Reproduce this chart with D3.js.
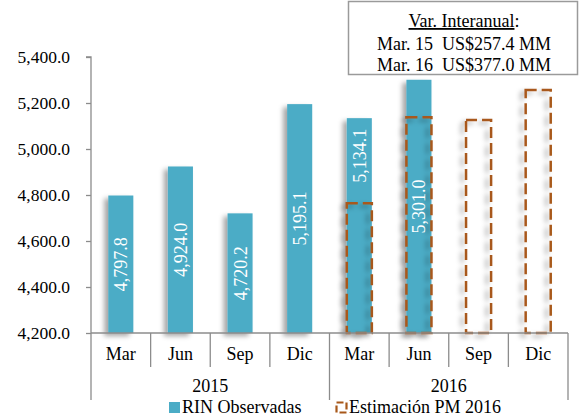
<!DOCTYPE html>
<html>
<head>
<meta charset="utf-8">
<script src="https://cdn.jsdelivr.net/npm/d3@7"></script>
<style>
  body { margin: 0; background: #fff; }
  svg { display: block; font-family: "Liberation Serif", "Times New Roman", serif; }
</style>
</head>
<body>
<div id="chart"></div>
<script>
const years = ['2015', '2016'];
const months = ['Mar', 'Jun', 'Sep', 'Dic'];
const observed = [4797.8, 4924.0, 4720.2, 5195.1, 5134.1, 5301.0, null, null];
const estimate = [null, null, null, null, 4764, 5138, 5126, 5257];
const yTicks = [4200, 4400, 4600, 4800, 5000, 5200, 5400];
const legendNames = ['RIN Observadas', 'Estimación PM 2016'];
const boxLines = ['Mar. 15  US$257.4 MM', 'Mar. 16  US$377.0 MM'];

const width = 580, height = 417;
const teal = '#4bacc6', brown = '#a8581a', axisGray = '#8c8c8c';
const margin = { left: 91, right: 12, top: 57, bottom: 84 };
const fs = 18;

const cats = [];
years.forEach(yr => months.forEach(m => cats.push({ year: yr, month: m })));
cats.forEach((c, i) => { c.key = i; c.obs = observed[i]; c.est = estimate[i]; });

const svg = d3.select('#chart').append('svg')
  .attr('width', width)
  .attr('height', height);

const defs = svg.append('defs');
const shadow = defs.append('filter').attr('id', 'shadow')
  .attr('x', '-50%').attr('y', '-20%').attr('width', '200%').attr('height', '140%');
shadow.append('feDropShadow')
  .attr('dx', -4).attr('dy', 3).attr('stdDeviation', 2.5)
  .attr('flood-color', '#000').attr('flood-opacity', 0.35);

const x = d3.scaleBand()
  .domain(cats.map(c => c.key))
  .range([margin.left, width - margin.right])
  .paddingInner(0).paddingOuter(0);

const y = d3.scaleLinear()
  .domain([4200, 5400])
  .range([height - margin.bottom, margin.top]);

const barW = x.bandwidth() * 0.42;
const base = y(4200);

// y axis
const yAxis = svg.append('g')
  .attr('transform', `translate(${margin.left},0)`)
  .call(d3.axisLeft(y).tickValues(yTicks).tickSize(5).tickPadding(16)
    .tickFormat(d3.format(',.1f')));
yAxis.attr('font-family', null);
yAxis.selectAll('path, line').attr('stroke', axisGray).attr('stroke-width', 1.3);
yAxis.select('.domain').attr('d', `M-5,${y(5400)}H0V${base}`);
yAxis.selectAll('text').attr('font-size', 17.5).attr('fill', '#000');

// observed bars
const obsData = cats.filter(c => c.obs != null);
svg.append('g').selectAll('rect')
  .data(obsData)
  .join('rect')
  .attr('x', d => x(d.key) + (x.bandwidth() - barW) / 2)
  .attr('y', d => y(d.obs))
  .attr('width', barW)
  .attr('height', d => base - y(d.obs))
  .attr('fill', teal)
  .attr('filter', 'url(#shadow)');

// estimate bars (dashed outline)
const estData = cats.filter(c => c.est != null);
svg.append('g').selectAll('rect')
  .data(estData)
  .join('rect')
  .attr('x', d => x(d.key) + (x.bandwidth() - barW) / 2)
  .attr('y', d => y(d.est))
  .attr('width', barW)
  .attr('height', d => base - y(d.est))
  .attr('fill', 'none')
  .attr('stroke', brown)
  .attr('stroke-width', 2.5)
  .attr('stroke-dasharray', '11,5')
  .attr('filter', 'url(#shadow)');

// value labels inside observed bars
svg.append('g').selectAll('text')
  .data(obsData)
  .join('text')
  .attr('transform', d => {
    const cx = x(d.key) + x.bandwidth() / 2;
    let top = y(d.obs), bot = base;
    if (d.est != null && d.est < d.obs && d.est < 5000) bot = y(d.est) - 10;
    return `translate(${cx + 6.5},${(top + bot) / 2}) rotate(-90)`;
  })
  .attr('text-anchor', 'middle')
  .attr('fill', '#fff')
  .attr('font-size', fs)
  .text(d => d3.format(',.1f')(d.obs));

// x axis: baseline and separators
const axisG = svg.append('g').attr('stroke', axisGray).attr('stroke-width', 1.3);
axisG.append('line')
  .attr('x1', x.range()[0]).attr('x2', x.range()[1])
  .attr('y1', base).attr('y2', base);
const bounds = d3.range(cats.length + 1).map(i => x.range()[0] + i * x.step());
axisG.selectAll('line.sep')
  .data(bounds)
  .join('line')
  .attr('class', 'sep')
  .attr('x1', d => d).attr('x2', d => d)
  .attr('y1', base)
  .attr('y2', (d, i) => i % months.length === 0 ? base + 67 : base + 34);

svg.append('g').selectAll('text')
  .data(cats)
  .join('text')
  .attr('x', d => x(d.key) + x.bandwidth() / 2)
  .attr('y', base + 27)
  .attr('text-anchor', 'middle')
  .attr('font-size', fs)
  .text(d => d.month);

svg.append('g').selectAll('text')
  .data(years)
  .join('text')
  .attr('x', (d, i) => x(i * months.length) + x.step() * months.length / 2)
  .attr('y', base + 59)
  .attr('text-anchor', 'middle')
  .attr('font-size', fs)
  .text(d => d);

// legend
const leg = svg.append('g').attr('font-size', fs);
leg.append('rect').attr('x', 169).attr('y', 402).attr('width', 11).attr('height', 11).attr('fill', teal);
leg.append('text').attr('x', 182).attr('y', 413).text(legendNames[0]);
leg.append('rect').attr('x', 336.5).attr('y', 402.5).attr('width', 10).attr('height', 10)
  .attr('fill', 'none').attr('stroke', brown).attr('stroke-width', 2.2)
  .attr('stroke-dasharray', '7,3');
leg.append('text').attr('x', 349).attr('y', 413).text(legendNames[1]);

// info box
const box = svg.append('g');
box.append('rect')
  .attr('x', 348.5).attr('y', 1.5).attr('width', 229).attr('height', 73)
  .attr('fill', '#fff').attr('stroke', '#9a9a9a').attr('stroke-width', 1.5);
const boxCx = 464;
const head = box.append('text').attr('x', boxCx).attr('y', 27)
  .attr('text-anchor', 'middle').attr('font-size', fs);
head.append('tspan').attr('text-decoration', 'underline').text('Var. Interanual');
head.append('tspan').text(':');
box.selectAll('text.line')
  .data(boxLines)
  .join('text')
  .attr('class', 'line')
  .attr('x', boxCx)
  .attr('y', (d, i) => 50 + i * 21)
  .attr('text-anchor', 'middle')
  .attr('font-size', fs)
  .style('white-space', 'pre')
  .text(d => d);
</script>
</body>
</html>
